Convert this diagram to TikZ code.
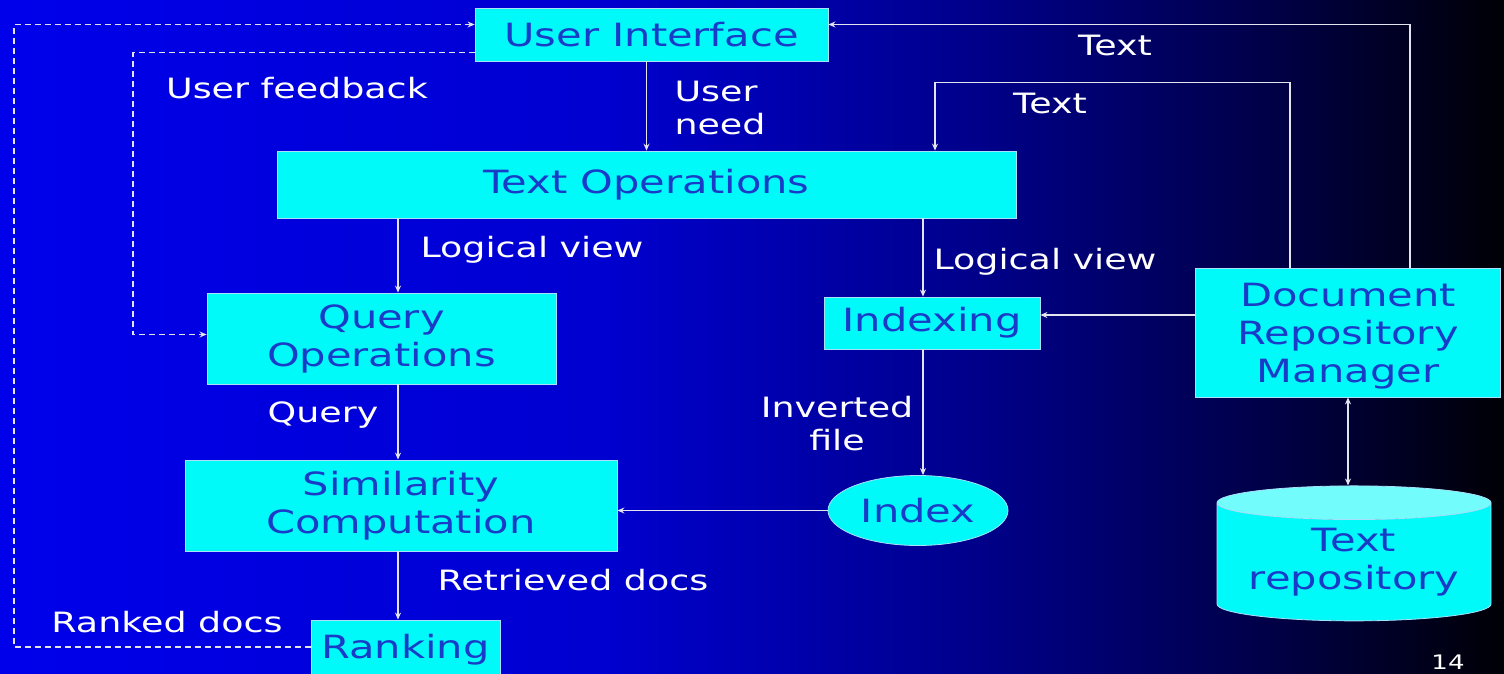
\documentclass[tikz,border=0pt]{standalone}
\usepackage{fontspec}
\setmainfont[FakeStretch=1.3]{DejaVu Sans}
\usetikzlibrary{
	arrows.meta,
	calc,
	positioning,
	shapes.geometric,
	}
\definecolor{boxcyan}{RGB}{0,250,250}
\definecolor{boxtext}{RGB}{25,60,200}
\definecolor{linegray}{RGB}{228,228,238}
\definecolor{bgA}{RGB}{0,0,235}
\definecolor{bgB}{RGB}{0,0,208}
\definecolor{bgC}{RGB}{0,0,135}
\definecolor{bgD}{RGB}{0,0,65}
\definecolor{bgE}{RGB}{0,0,5}
\pgfdeclarehorizontalshading{slidebg}{100bp}{color(0bp)=(bgA); color(25bp)=(bgA); color(45bp)=(bgB); color(58bp)=(bgC); color(68bp)=(bgD); color(75bp)=(bgE); color(100bp)=(bgE)}
\newcommand\boxfont{\fontsize{32}{38}\selectfont}
\newcommand\labfont{\fontsize{28}{33}\selectfont}
\tikzset{
	box/.style={draw=cyan!35!white, line width=0.8pt, fill=boxcyan, text=boxtext, font=\boxfont, align=center, inner sep=0pt},
	lab/.style={text=white, font=\labfont, align=center, inner sep=0pt},
	flow/.style={draw=linegray, line width=1.2pt, -{Stealth[length=7pt,width=6pt]}},
	dashflow/.style={flow, dash pattern=on 6pt off 4pt},
	}
\begin{document}
\begin{tikzpicture}[x=1pt, y=-1pt]
		\fill[shading=slidebg] (0,0) rectangle (1504,674);
		\useasboundingbox (0,0) rectangle (1504,674);
		\coordinate (spine) at (398,0);
		\coordinate (ixline) at (923,0);
		\coordinate (outer) at (14,0);
		\coordinate (inner) at (133,0);
		\node[box, minimum width=353pt, minimum height=53pt] (ui) at (651.5,34.5) {User Interface};
		\node[box, minimum width=739pt, minimum height=67pt] (tops) at (646.5,184.5) {Text Operations};
		\node[box, minimum width=349pt, minimum height=91pt] (qops) at (381.5,338.5) {Query\\Operations};
		\node[box, minimum width=216pt, minimum height=52pt] (idxg) at (932,323) {Indexing};
		\node[box, minimum width=305pt, minimum height=129pt, text depth=0pt] (drm) at (1348,332.5) {Document\\Repository\\Manager};
		\node[box, minimum width=432pt, minimum height=91pt] (sim) at (401,505.5) {Similarity\\Computation};
		\node[box, ellipse, minimum width=180pt, minimum height=70pt] (index) at (918,510.5) {Index};
		\node[box, minimum width=189pt, minimum height=60pt] (rank) at (405.5,650) {Ranking};
		\node[cylinder, shape border rotate=90, aspect=0.16, draw=cyan!35!white, line width=0.8pt, cylinder uses custom fill, cylinder body fill=boxcyan, cylinder end fill=boxcyan!55!white, minimum width=274pt, minimum height=135pt, text=boxtext, font=\boxfont, align=center, inner sep=0pt] (repo) at (1354,562) {Text\\repository};
		\node[lab] (fbl) at (297,88) {User feedback};
		\node[lab, align=left] (needl) at (720,108) {User\\need};
		\node[lab] (text1) at (1115,45) {Text};
		\node[lab] (text2) at (1050,103) {Text};
		\node[lab] (lv1) at (532,250) {Logical view};
		\node[lab] (lv2) at (1045,262) {Logical view};
		\node[lab] (ql) at (323,415) {Query};
		\node[lab] (invl) at (837,424) {Inverted\\file};
		\node[lab] (retl) at (573,580) {Retrieved docs};
		\node[lab] (rankl) at (167,622) {Ranked docs};
		\node[lab, font=\fontsize{20}{24}\selectfont] (pageno) at (1448,662) {14};
		\draw[flow] (ui.south -| tops.north) -- (tops.north);
		\draw[flow] ([xshift=62pt]drm.north) |- ([yshift=10pt]ui.east);
		\draw[flow] ([xshift=-58pt]drm.north) -- ++(0,-185) -| ([xshift=288.5pt]tops.north);
		\draw[flow] (tops.south -| spine) -- (qops.north -| spine);
		\draw[flow] (tops.south -| ixline) -- (idxg.north -| ixline);
		\coordinate (feed) at ([yshift=8pt]idxg.east);
		\draw[flow] (feed -| drm.west) -- (feed);
		\draw[flow] (idxg.south -| ixline) -- (index.north -| ixline);
		\draw[flow] (index.west) -- (index.west -| sim.east);
		\draw[flow] (qops.south -| spine) -- (sim.north -| spine);
		\draw[flow] (sim.south -| spine) -- (rank.north -| spine);
		\draw[dashflow] ([yshift=3pt]rank.west) -| (outer |- ui.west) |- ([yshift=10pt]ui.west);
		\draw[dashflow] ([yshift=-18pt]ui.west) -| ([yshift=4pt]inner |- qops.west) -- ([yshift=4pt]qops.west);
		\draw[flow, {Stealth[length=7pt,width=6pt]}-{Stealth[length=7pt,width=6pt]}] (drm.south) -- (drm.south |- repo.north);
	\end{tikzpicture}
\end{document}
